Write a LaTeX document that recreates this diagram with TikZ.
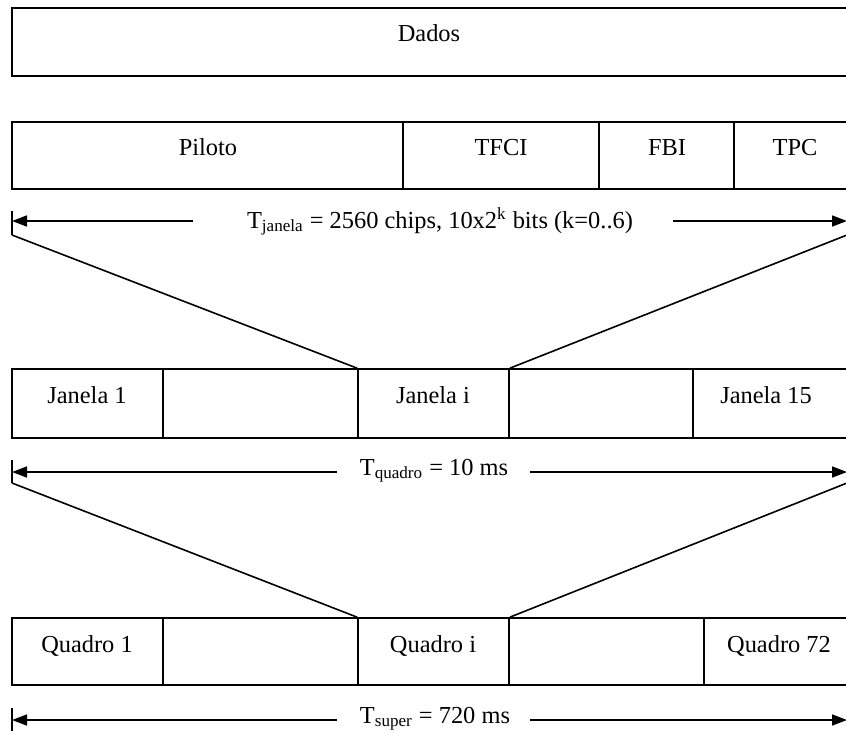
\documentclass[tikz,border=0pt]{standalone}
\usepackage{fontspec}
\setmainfont{Liberation Serif}
\usetikzlibrary{fit,arrows.meta}
\begin{document}
\begin{tikzpicture}[x=0.5pt,y=-0.5pt,
  cell/.style={draw, line width=0.8pt, inner sep=0pt, rectangle},
  txt/.style={anchor=base, inner sep=0pt, font=\fontsize{12.2}{14}\selectfont},
  ln/.style={line width=0.8pt},
  arr/.style={ln, -{Triangle[length=7.5pt,width=5.5pt]}}]
\useasboundingbox (0,0) rectangle (846,730);
\clip (0,0) rectangle (846,730);

% Row 1
\node[cell, fit={(12,8) (847,76)}] (dados) {};
\node[txt] (tdados) at (429,41) {Dados};

% Row 2
\node[cell, fit={(12,122) (403,189)}] (piloto) {};
\node[cell, fit={(403,122) (599,189)}] (tfci) {};
\node[cell, fit={(599,122) (734,189)}] (fbi) {};
\node[cell, fit={(734,122) (847,189)}] (tpc) {};
\node[txt] (tpiloto) at (208,155) {Piloto};
\node[txt] (ttfci) at (501,155) {TFCI};
\node[txt] (tfbi) at (667,155) {FBI};
\node[txt] (ttpc) at (795,155) {TPC};

% Arrow 1
\coordinate (a1tt) at (12,211);
\coordinate (a1tb) at (12,235);
\coordinate (a1L) at (12,221);
\coordinate (a1l) at (193,221);
\coordinate (a1r) at (673,221);
\coordinate (a1R) at (847,221);
\coordinate (a1rt) at (847,211);
\coordinate (a1rb) at (847,235);
\draw[ln] (a1tt) -- (a1tb);
\draw[ln] (a1rt) -- (a1rb);
\draw[arr] (a1l) -- (a1L);
\draw[arr] (a1r) -- (a1R);
\node[txt] (t1) at (440,228) {T\textsubscript{janela} = 2560 chips, 10x2\textsuperscript{k} bits (k=0..6)};

% Row 3
\node[cell, fit={(12,369) (163,438)}] (j1) {};
\node[cell, fit={(163,369) (358,438)}] (j2) {};
\node[cell, fit={(358,369) (509,438)}] (ji) {};
\node[cell, fit={(509,369) (693,438)}] (j3) {};
\node[cell, fit={(693,369) (847,438)}] (j15) {};
\node[txt] (tj1) at (87,403) {Janela 1};
\node[txt] (tji) at (433,403) {Janela i};
\node[txt] (tj15) at (766,403) {Janela 15};

\draw[ln] (a1tb) -- (ji.north west);
\draw[ln] (a1rb) -- (ji.north east);

% Arrow 2
\coordinate (a2tt) at (12,460);
\coordinate (a2tb) at (12,483);
\coordinate (a2L) at (12,472);
\coordinate (a2l) at (337,472);
\coordinate (a2r) at (530,472);
\coordinate (a2R) at (847,472);
\coordinate (a2rt) at (847,460);
\coordinate (a2rb) at (847,483);
\draw[ln] (a2tt) -- (a2tb);
\draw[ln] (a2rt) -- (a2rb);
\draw[arr] (a2l) -- (a2L);
\draw[arr] (a2r) -- (a2R);
\node[txt] (t2) at (434,475) {T\textsubscript{quadro} = 10 ms};

% Row 4
\node[cell, fit={(12,618) (163,685)}] (q1) {};
\node[cell, fit={(163,618) (358,685)}] (q2) {};
\node[cell, fit={(358,618) (509,685)}] (qi) {};
\node[cell, fit={(509,618) (704,685)}] (q3) {};
\node[cell, fit={(704,618) (847,685)}] (q72) {};
\node[txt] (tq1) at (87,652) {Quadro 1};
\node[txt] (tqi) at (433,652) {Quadro i};
\node[txt] (tq72) at (779,652) {Quadro 72};

\draw[ln] (a2tb) -- (qi.north west);
\draw[ln] (a2rb) -- (qi.north east);

% Arrow 3
\coordinate (a3tt) at (12,708);
\coordinate (a3tb) at (12,732);
\coordinate (a3L) at (12,720);
\coordinate (a3l) at (337,720);
\coordinate (a3r) at (530,720);
\coordinate (a3R) at (847,720);
\draw[ln] (a3tt) -- (a3tb);
\draw[arr] (a3l) -- (a3L);
\draw[arr] (a3r) -- (a3R);
\node[txt] (t3) at (435,723) {T\textsubscript{super} = 720 ms};
\end{tikzpicture}
\end{document}
